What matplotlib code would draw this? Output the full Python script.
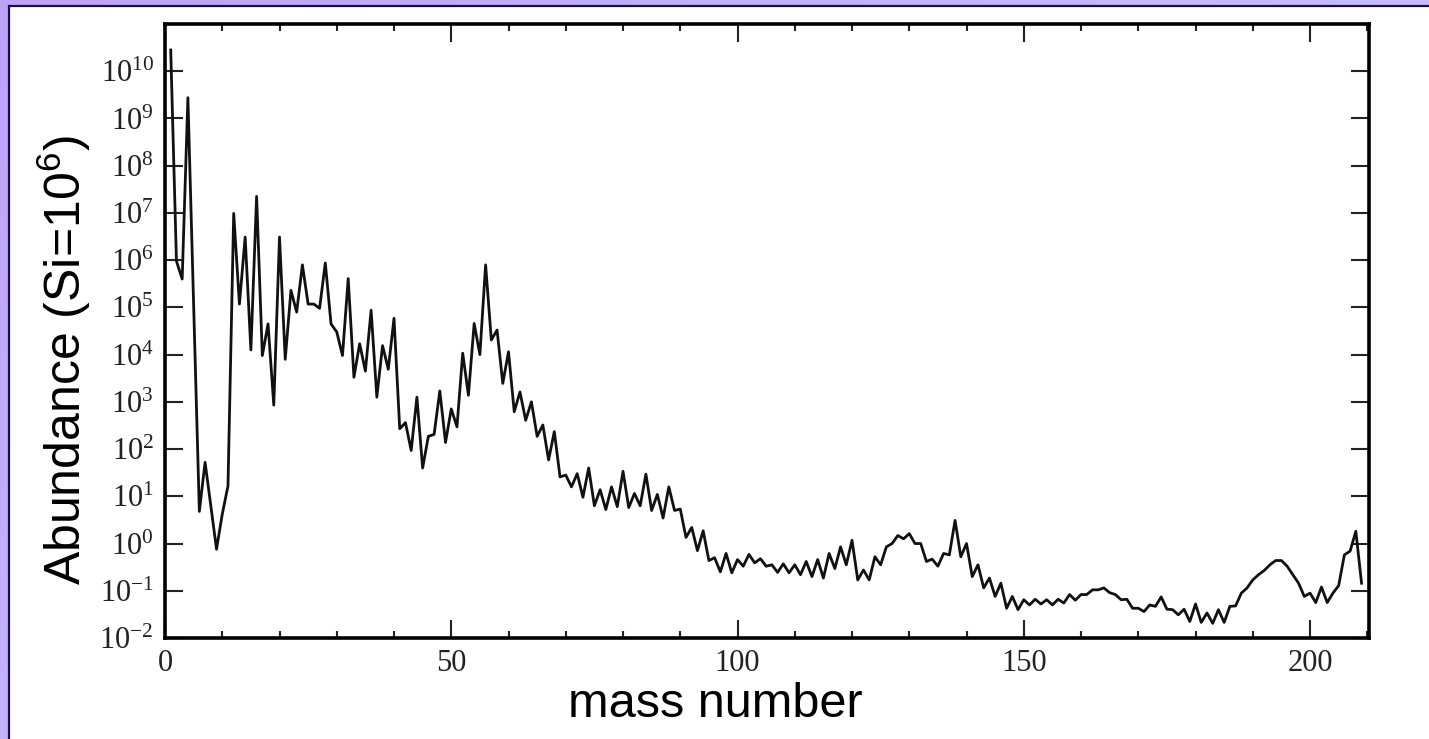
import numpy as np
import matplotlib.pyplot as plt
from matplotlib.patches import Rectangle
from matplotlib.ticker import NullLocator

plt.rcParams['mathtext.fontset'] = 'custom'
plt.rcParams['mathtext.rm'] = 'Liberation Serif'
plt.rcParams['mathtext.sf'] = 'Liberation Sans'

# Solar-system abundance per mass number, log10 (Si = 1e6)
# (no stable nuclei at A = 5 and A = 8)
mass = [1, 2, 3, 4, 6, 7] + list(range(9, 210))

log_light = [10.45, 5.98, 5.6, 9.44, 0.68, 1.72, -0.12, 0.62, 1.22]          # A 1..11
log_12_60 = [6.99, 5.07, 6.49, 4.1, 7.35, 3.98, 4.65, 2.93, 6.49, 3.9,
             5.36, 4.9, 5.9, 5.07, 5.07, 4.98, 5.94, 4.65, 4.48, 3.98,
             5.61, 3.52, 4.23, 3.65, 4.94, 3.1, 4.19, 3.69, 4.77, 2.43,
             2.56, 1.97, 3.1, 1.6, 2.27, 2.31, 3.23, 2.14, 2.85, 2.47,
             4.03, 3.14, 4.66, 4.0, 5.9, 4.31, 4.52, 3.39, 4.06]
log_61_100 = [2.79, 3.21, 2.61, 3.0, 2.27, 2.51, 1.77, 2.37, 1.41, 1.45,
              1.2, 1.48, 0.98, 1.6, 0.8, 1.14, 0.72, 1.2, 0.78, 1.53,
              0.76, 1.06, 0.8, 1.47, 0.7, 1.04, 0.54, 1.2, 0.7, 0.73,
              0.13, 0.34, -0.15, 0.27, -0.36, -0.3, -0.6, -0.21, -0.62, -0.34]
log_101_150 = [-0.48, -0.23, -0.41, -0.32, -0.48, -0.45, -0.61, -0.43, -0.62, -0.45,
               -0.66, -0.38, -0.7, -0.34, -0.73, -0.21, -0.53, -0.07, -0.45, 0.07,
               -0.77, -0.56, -0.77, -0.28, -0.45, -0.07, 0.0, 0.17, 0.1, 0.21,
               0.0, 0.0, -0.38, -0.33, -0.48, -0.21, -0.24, 0.49, -0.28, 0.0,
               -0.7, -0.45, -0.94, -0.73, -1.12, -0.84, -1.37, -1.12, -1.40, -1.19]
log_151_209 = [-1.30, -1.18, -1.28, -1.19, -1.3, -1.18, -1.26, -1.08, -1.2, -1.08,
               -1.08, -0.98, -0.98, -0.94, -1.04, -1.08, -1.19, -1.18, -1.37, -1.37,
               -1.44, -1.3, -1.33, -1.13, -1.39, -1.40, -1.51, -1.39, -1.65, -1.28,
               -1.67, -1.47, -1.69, -1.40, -1.67, -1.33, -1.32, -1.05, -0.94, -0.77,
               -0.66, -0.57, -0.45, -0.36, -0.36, -0.48, -0.66, -0.84, -1.12, -1.05,
               -1.25, -0.92, -1.25, -1.05, -0.89, -0.24, -0.16, 0.26, -0.84]

log_abund = log_light + log_12_60 + log_61_100 + log_101_150 + log_151_209
abundance = 10.0 ** np.array(log_abund)

decades = list(range(-2, 11))
x_major = [0, 50, 100, 150, 200]

W, H = 1429, 739
fig = plt.figure(figsize=(W / 100, H / 100), dpi=100)

# slide-style background: lavender gradient with a white panel
bg = fig.add_axes([0, 0, 1, 1], zorder=-2)
gx, gy = np.meshgrid(np.linspace(0, 1, 300), np.linspace(0, 1, 150))
t = 0.6 * gx + 0.4 * gy
c0 = np.array([0.74, 0.64, 0.97])
c1 = np.array([0.80, 0.80, 0.99])
bg.imshow(c0 + (c1 - c0) * t[..., None], aspect='auto', extent=[0, 1, 0, 1])
bg.add_patch(Rectangle((8.5 / W, -0.1), 1.2, 1.1 - 6.5 / H,
                       facecolor='white', edgecolor='#1e0b4f', lw=1.6))
bg.set_xlim(0, 1)
bg.set_ylim(0, 1)
bg.axis('off')

ax = fig.add_axes([165 / W, 101 / H, (1369 - 165) / W, (715 - 101) / H])
ax.plot(mass, abundance, color='#111111', lw=2.0)

ax.set_yscale('log')
ax.set_ylim(1e-2, 1e11)
ax.set_xlim(0, 210.3)
ax.set_yticks([10.0 ** k for k in decades],
              labels=[r'$\mathrm{10^{%d}}$' % k for k in decades])
ax.yaxis.set_minor_locator(NullLocator())
ax.set_xticks(x_major, labels=[str(v) for v in x_major])
ax.set_xticks(np.arange(0, 211, 10), minor=True)

ax.tick_params(which='both', direction='in', top=True, right=True,
               width=1.5, color='#222222', labelcolor='#222222')
ax.tick_params(which='major', length=13, labelsize=22, pad=8)
ax.tick_params(which='minor', length=5)
for lab in ax.get_xticklabels() + ax.get_yticklabels():
    lab.set_family('Liberation Serif')
for s in ax.spines.values():
    s.set_linewidth(2.6)

fig.text(64 / W, 0.512, r'Abundance (Si=10$^{\mathsf{6}}$)', rotation=90,
         ha='center', va='center', fontsize=36, family='Liberation Sans')
fig.text(715 / W, 22 / H, 'mass number', ha='center', va='baseline',
         fontsize=35, family='Liberation Sans')

fig.savefig('out.png', dpi=100)
